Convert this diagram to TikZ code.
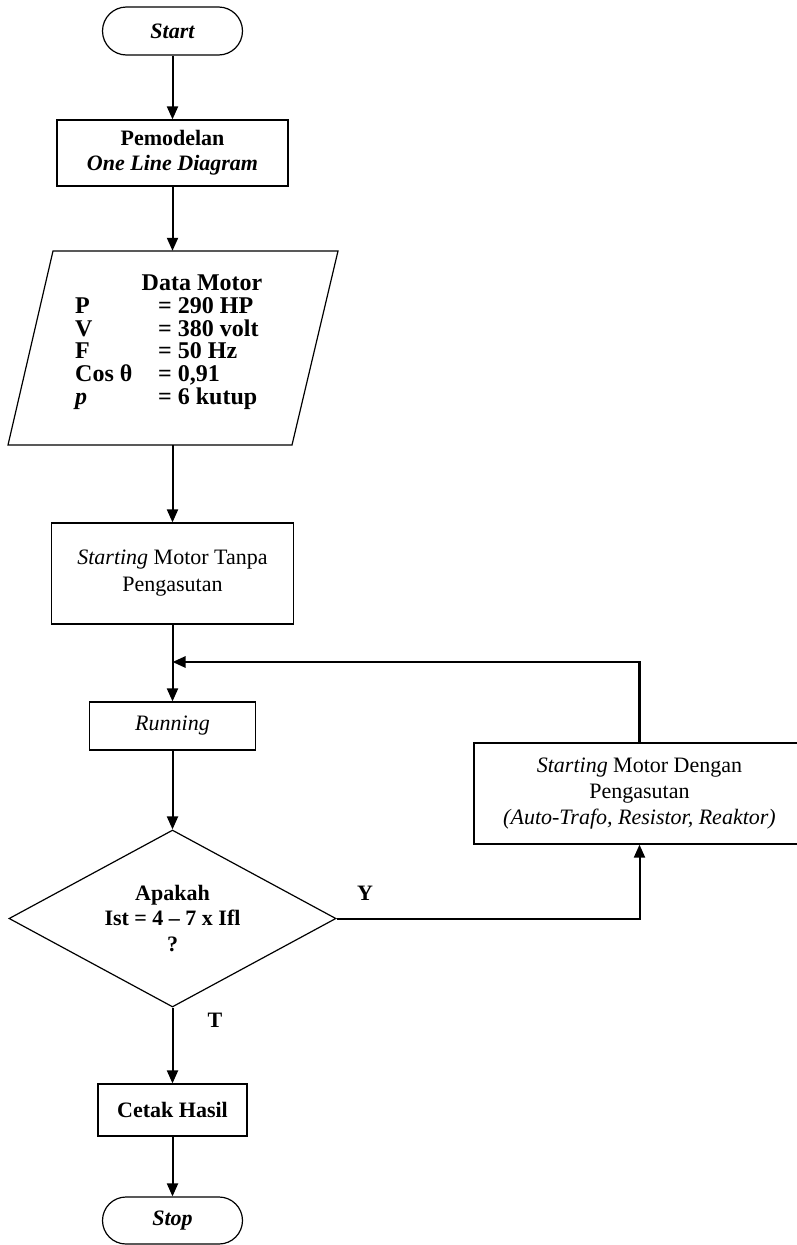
\documentclass[tikz,border=0pt]{standalone}
\usepackage{fontspec}
\setmainfont{Liberation Serif}
\usetikzlibrary{arrows.meta,shapes.geometric,shapes.misc}
\begin{document}
\begin{tikzpicture}[x=1pt,y=-1pt,
  every node/.style={font=\fontsize{22}{25}\selectfont, align=center, inner sep=0pt},
  procbox/.style={draw, line width=1.2pt, rectangle},
  term/.style={draw, line width=1.2pt, rounded rectangle},
  decision/.style={draw, line width=1.2pt, diamond, aspect=1.85},
  flow/.style={line width=2pt, -{Triangle[width=11pt,length=13pt]}},
  lbl/.style={font=\fontsize{22}{25}\selectfont\bfseries}
]
\useasboundingbox (0,0) rectangle (797,1245);
\clip (0,0) rectangle (797,1245);

% terminals and processes
\node[term, minimum width=140pt, minimum height=48pt, font=\fontsize{22}{25}\selectfont\bfseries\itshape] (start) at (172.5,31) {Start};
\node[procbox, minimum width=231pt, minimum height=66pt, font=\fontsize{22}{25}\selectfont\bfseries] (pem) at (172.5,153) {Pemodelan\\\textit{One Line Diagram}};

% data (parallelogram)
\node[minimum width=285pt, minimum height=194pt] (data) at (172.5,348) {};
\draw[line width=1.2pt] (8,445) -- (53,251) -- (338,251) -- (292,445) -- cycle;
\node[font=\fontsize{24}{25}\selectfont\bfseries] (datat) at (202,283) {Data Motor};
\node[anchor=west, align=left, font=\fontsize{24}{20.5}\selectfont\bfseries] (datab) at (75,354)
  {\begin{tabular}{@{}p{83pt}@{}l@{}}
   P & = 290 HP\\
   V & = 380 volt\\
   F & = 50 Hz\\
   Cos θ & = 0,91\\
   \textit{p} & = 6 kutup
   \end{tabular}};

\node[procbox, minimum width=242pt, minimum height=101pt, font=\fontsize{22}{27}\selectfont] (sm) at (172.5,573.5) {\textit{Starting} Motor Tanpa\\Pengasutan};
\coordinate (j) at (172.5,662);
\node[procbox, minimum width=166pt, minimum height=48pt, font=\fontsize{22}{25}\selectfont\itshape] (run) at (172.5,726) {Running};

\node[decision, minimum width=327pt, minimum height=177pt, font=\fontsize{22}{25.5}\selectfont\bfseries] (dia) at (172.5,918.5) {Apakah\\Ist = 4 – 7 x Ifl\\?};

\node[procbox, minimum width=331pt, minimum height=101pt, font=\fontsize{22}{26}\selectfont] (rb) at (639.5,793.5) {\textit{Starting} Motor Dengan\\Pengasutan\\\textit{(Auto-Trafo, Resistor, Reaktor)}};

\node[procbox, minimum width=149pt, minimum height=52pt, font=\fontsize{22}{25}\selectfont\bfseries] (cetak) at (172.5,1110) {Cetak Hasil};
\node[term, minimum width=140pt, minimum height=47pt, font=\fontsize{22}{25}\selectfont\bfseries\itshape] (stop) at (172.5,1220.5) {Stop};

\node[lbl] (ylab) at (365,893) {Y};
\node[lbl] (tlab) at (215,1020) {T};

% connectors
\draw[flow] (start.south) -- (pem.north);
\draw[flow] (pem.south) -- (data.north);
\draw[flow] (data.south) -- (sm.north);
\draw[flow] (sm.south) -- (run.north);
\draw[flow, line width=2.5pt] (rb.north) |- (j);
\draw[flow] (run.south) -- (dia.north);
\draw[flow] (dia.east) -| (rb.south);
\draw[flow] (dia.south) -- (cetak.north);
\draw[flow] (cetak.south) -- (stop.north);
\end{tikzpicture}
\end{document}
